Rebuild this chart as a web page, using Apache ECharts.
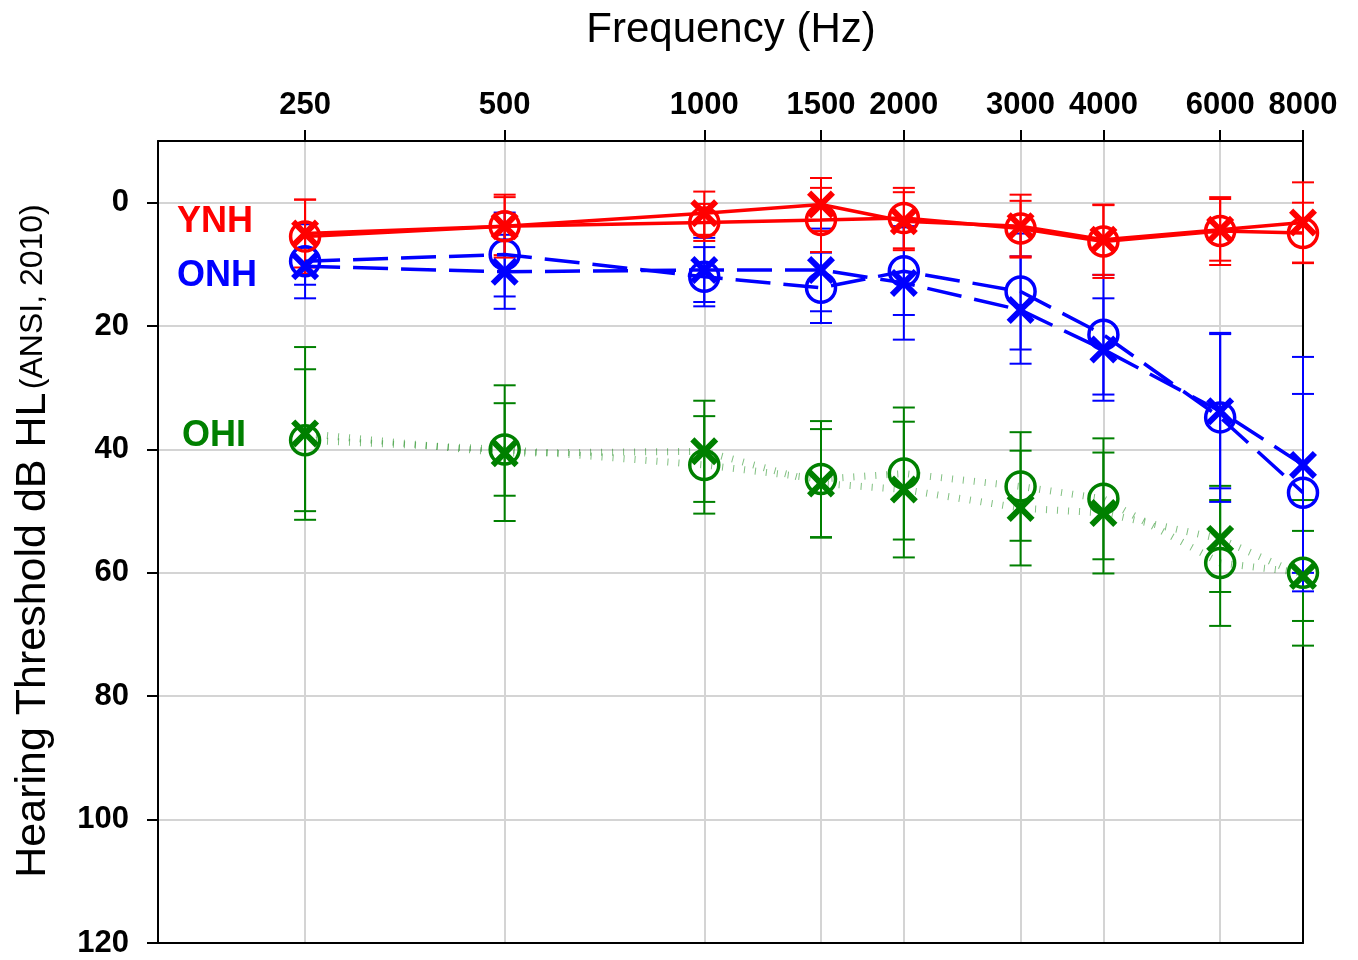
<!DOCTYPE html>
<html>
<head>
<meta charset="utf-8">
<script src="https://cdn.jsdelivr.net/npm/echarts@6/dist/echarts.min.js"></script>
<style>
  html, body { margin: 0; padding: 0; background: #fff; }
  #chart { width: 1358px; height: 960px; }
</style>
</head>
<body>
<div id="chart"></div>
<script>
// ---- Data ----
const frequencies = [250, 500, 1000, 1500, 2000, 3000, 4000, 6000, 8000];
const yTicks = [0, 20, 40, 60, 80, 100, 120];

// YNH (young normal hearing)
const ynhRightMean = [5.5, 3.8, 3.2, 2.8, 2.5, 4.2, 6.3, 4.6, 4.9];
const ynhRightSD   = [6.0, 4.7, 3.0, 5.2, 4.9, 4.5, 5.9, 5.5, 4.9];
const ynhLeftMean  = [5.0, 3.8, 1.7, 0.3, 3.0, 3.8, 6.0, 4.4, 3.2];
const ynhLeftSD    = [5.5, 5.1, 3.5, 4.3, 4.7, 5.1, 5.7, 5.0, 6.5];

// ONH (older normal hearing)
const onhRightMean = [9.5, 8.4, 12.0, 13.8, 11.1, 14.4, 21.4, 34.8, 47.0];
const onhRightSD   = [6.0, 6.8, 4.8, 5.7, 7.1, 9.4, 9.7, 13.7, 16.0];
const onhLeftMean  = [10.3, 11.2, 10.9, 10.9, 13.0, 17.4, 23.8, 33.8, 42.5];
const onhLeftSD    = [3.0, 6.0, 5.2, 6.7, 9.2, 8.7, 8.3, 12.5, 17.5];

// OHI (older hearing impaired)
const ohiRightMean = [38.5, 40.0, 42.5, 44.8, 43.9, 46.0, 48.0, 58.4, 60.0];
const ohiRightSD   = [11.5, 7.5, 7.9, 9.4, 10.7, 8.8, 9.8, 10.2, 11.8];
const ohiLeftMean  = [37.4, 40.6, 40.3, 45.5, 46.5, 49.5, 50.3, 54.5, 60.5];
const ohiLeftSD    = [14.0, 11.0, 8.2, 8.8, 11.0, 9.3, 9.8, 8.6, 7.3];

// ---- Styles ----
const RED = '#ff0000', BLUE = '#0000ff', GREEN = '#008000';
const FONT = '"Liberation Sans", Arial, sans-serif';
const X_PATH = 'path://M0,3 L3,0 L10,7 L17,0 L20,3 L13,10 L20,17 L17,20 L10,13 L3,20 L0,17 L7,10 Z';
const Y_MIN = -10, Y_MAX = 120;

function pts(means) { return frequencies.map((f, i) => [f, means[i]]); }
function bars(means, sds) { return frequencies.map((f, i) => [f, means[i] - sds[i], means[i] + sds[i]]); }

function errorSeries(name, means, sds, color) {
  return {
    name: name, type: 'custom', xAxisIndex: 0, yAxisIndex: 0,
    data: bars(means, sds),
    encode: { x: 0, y: [1, 2] },
    silent: true,
    renderItem: function (params, api) {
      const x = api.value(0);
      const p1 = api.coord([x, api.value(1)]);
      const p2 = api.coord([x, api.value(2)]);
      const hw = 11;
      const st = { stroke: color, lineWidth: 2, fill: null };
      return {
        type: 'group',
        children: [
          { type: 'line', shape: { x1: p1[0], y1: p1[1], x2: p2[0], y2: p2[1] }, style: st },
          { type: 'line', shape: { x1: p1[0] - hw, y1: p1[1], x2: p1[0] + hw, y2: p1[1] }, style: st },
          { type: 'line', shape: { x1: p2[0] - hw, y1: p2[1], x2: p2[0] + hw, y2: p2[1] }, style: st }
        ]
      };
    }
  };
}

function lineSeries(name, means, color, lineStyle, marker) {
  const isCircle = marker === 'O';
  return {
    name: name, type: 'line', xAxisIndex: 0, yAxisIndex: 0,
    data: pts(means),
    symbol: isCircle ? 'circle' : X_PATH,
    symbolSize: isCircle ? 29 : 28,
    showAllSymbol: true,
    lineStyle: Object.assign({}, lineStyle),
    itemStyle: isCircle
      ? { color: 'rgba(0,0,0,0)', borderColor: color, borderWidth: 3.5 }
      : { color: color, borderWidth: 0 },
    emphasis: { disabled: true },
    silent: true,
    z: 3
  };
}

const solid = { width: 3.5, type: 'solid', color: RED };
const dashed = { width: 3.5, type: [35, 13], color: BLUE };
const dotted = { width: 7, type: [1, 10], color: 'rgba(0,128,0,0.5)' };

const series = [
  errorSeries('OHI-R-err', ohiRightMean, ohiRightSD, GREEN),
  errorSeries('OHI-L-err', ohiLeftMean, ohiLeftSD, GREEN),
  lineSeries('OHI-R', ohiRightMean, GREEN, dotted, 'O'),
  lineSeries('OHI-L', ohiLeftMean, GREEN, dotted, 'X'),
  errorSeries('ONH-R-err', onhRightMean, onhRightSD, BLUE),
  errorSeries('ONH-L-err', onhLeftMean, onhLeftSD, BLUE),
  lineSeries('ONH-R', onhRightMean, BLUE, dashed, 'O'),
  lineSeries('ONH-L', onhLeftMean, BLUE, dashed, 'X'),
  errorSeries('YNH-R-err', ynhRightMean, ynhRightSD, RED),
  errorSeries('YNH-L-err', ynhLeftMean, ynhLeftSD, RED),
  lineSeries('YNH-R', ynhRightMean, RED, solid, 'O'),
  lineSeries('YNH-L', ynhLeftMean, RED, solid, 'X')
];

const gridColor = '#d4d4d4';

const option = {
  animation: false,
  backgroundColor: '#ffffff',
  textStyle: { fontFamily: FONT },
  grid: { left: 158, top: 141, right: 55, bottom: 17, containLabel: false },
  xAxis: [
    {
      type: 'log', logBase: 2, min: 150, max: 8000, position: 'top',
      axisLine: { show: true, onZero: false, lineStyle: { color: '#000', width: 2 } },
      axisTick: { show: true, inside: false, length: 11, customValues: frequencies, lineStyle: { color: '#000', width: 2 } },
      axisLabel: { show: true, customValues: frequencies, margin: 20, color: '#000', fontSize: 31, fontWeight: 'bold', fontFamily: FONT,
                   formatter: v => String(Math.round(v)) },
      splitLine: { show: true, lineStyle: { color: gridColor, width: 2 } },
      minorTick: { show: false }, minorSplitLine: { show: false }
    },
    {
      type: 'log', logBase: 2, min: 150, max: 8000, position: 'bottom',
      axisLine: { show: true, onZero: false, lineStyle: { color: '#000', width: 2 } },
      axisTick: { show: false }, axisLabel: { show: false }, splitLine: { show: false }
    }
  ],
  yAxis: [
    {
      type: 'value', inverse: true, min: Y_MIN, max: Y_MAX, position: 'left',
      axisLine: { show: true, onZero: false, lineStyle: { color: '#000', width: 2 } },
      axisTick: { show: true, length: 11, customValues: yTicks, lineStyle: { color: '#000', width: 2 } },
      axisLabel: { show: true, customValues: yTicks, margin: 29, color: '#000', fontSize: 31, fontWeight: 'bold', fontFamily: FONT },
      splitLine: { show: true, lineStyle: { color: gridColor, width: 2 } }
    },
    {
      type: 'value', inverse: true, min: Y_MIN, max: Y_MAX, position: 'right',
      axisLine: { show: true, onZero: false, lineStyle: { color: '#000', width: 2 } },
      axisTick: { show: false }, axisLabel: { show: false }, splitLine: { show: false }
    }
  ],
  graphic: [
    { type: 'text', x: 731, y: 30, style: { text: 'Frequency (Hz)', font: '42px ' + FONT, fill: '#000', align: 'center', verticalAlign: 'middle' } },
    { type: 'text', x: 33, y: 541, rotation: Math.PI / 2,
      style: { text: '{a|Hearing Threshold dB HL} {b|(ANSI, 2010)}', fill: '#000', align: 'center', verticalAlign: 'middle',
               rich: { a: { fontSize: 43, fontFamily: FONT, fill: '#000' }, b: { fontSize: 32, fontFamily: FONT, fill: '#000' } } } },
    { type: 'text', x: 177, y: 222, style: { text: 'YNH', font: 'bold 36px ' + FONT, fill: RED, align: 'left', verticalAlign: 'middle' } },
    { type: 'text', x: 177, y: 276, style: { text: 'ONH', font: 'bold 36px ' + FONT, fill: BLUE, align: 'left', verticalAlign: 'middle' } },
    { type: 'text', x: 182, y: 436, style: { text: 'OHI', font: 'bold 36px ' + FONT, fill: GREEN, align: 'left', verticalAlign: 'middle' } }
  ],
  series: series
};

const chart = echarts.init(document.getElementById('chart'), null, { renderer: 'canvas' });
chart.setOption(option);
</script>
</body>
</html>
